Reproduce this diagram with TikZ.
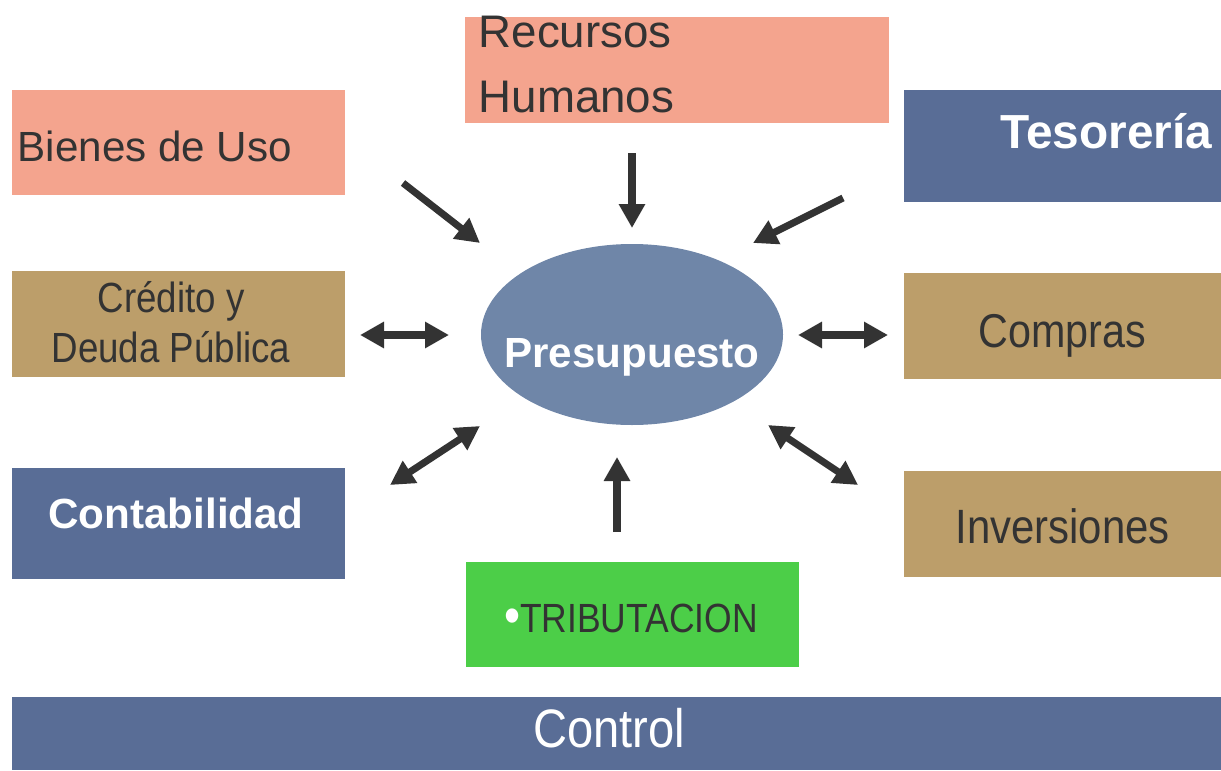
\documentclass[tikz,border=0pt]{standalone}
\usepackage{fontspec}
\setmainfont{Liberation Sans}
\newfontfamily\narrowfont[FakeStretch=0.87]{Liberation Sans}
\usetikzlibrary{arrows.meta,shapes.geometric}
\definecolor{rosado}{HTML}{F4A48E}
\definecolor{ocre}{HTML}{BC9E6A}
\definecolor{azul}{HTML}{596D96}
\definecolor{celeste}{HTML}{6F86A8}
\definecolor{verde}{HTML}{4CCE48}
\definecolor{gris}{HTML}{333333}
\tikzset{
  caja/.style={rectangle,inner sep=0pt,minimum width=3.33cm,minimum height=1.06cm},
  rotulo/.style={inner sep=0pt,anchor=base,text=gris},
  flecha/.style={draw=gris,line width=2pt,-{Triangle[length=0.24cm,width=0.25cm]}},
  dflecha/.style={flecha,{Triangle[length=0.24cm,width=0.25cm]}-{Triangle[length=0.24cm,width=0.25cm]}}
}
\begin{document}
\begin{tikzpicture}
  \useasboundingbox (0,0) rectangle (12.21,7.70);

  \node[caja,fill=rosado,minimum width=4.24cm] (rrhh) at (6.77,7.00) {};
  \node[caja,fill=rosado,minimum height=1.05cm] (bienes) at (1.785,6.275) {};
  \node[caja,fill=azul,minimum width=3.17cm,minimum height=1.12cm] (tesoreria) at (10.625,6.24) {};
  \node[caja,fill=ocre] (credito) at (1.785,4.46) {};
  \node[caja,fill=ocre,minimum width=3.17cm] (compras) at (10.625,4.44) {};
  \node[caja,fill=azul,minimum height=1.11cm] (contab) at (1.785,2.465) {};
  \node[caja,fill=ocre,minimum width=3.17cm] (inversiones) at (10.625,2.46) {};
  \node[caja,fill=verde,minimum height=1.05cm] (tribut) at (6.325,1.555) {};
  \node[caja,fill=azul,minimum width=12.09cm,minimum height=0.73cm] (control) at (6.165,0.365) {};
  \node[ellipse,fill=celeste,inner sep=0pt,minimum width=3.02cm,minimum height=1.81cm] (ppto) at (6.32,4.355) {};

  \node[rotulo,anchor=base west,align=left,font=\fontsize{13}{18.5}\selectfont] (rrhhT) at (4.78,6.57) {Recursos\\Humanos};
  \node[rotulo,anchor=base west,font=\fontsize{12}{14}\selectfont] (bienesT) at (0.17,6.08) {Bienes de Uso};
  \node[rotulo,anchor=base east,text=white,font=\bfseries\fontsize{13.6}{16}\selectfont] (tesoreriaT) at (12.13,6.22) {Tesorería};
  \node[rotulo,align=center,font=\narrowfont\fontsize{12}{14.2}\selectfont] (creditoT) at (1.71,4.08) {Crédito y\\Deuda Pública};
  \node[rotulo,font=\narrowfont\fontsize{13.5}{16}\selectfont] (comprasT) at (10.625,4.23) {Compras};
  \node[rotulo,text=white,font=\bfseries\fontsize{12}{14}\selectfont] (contabT) at (1.76,2.42) {Contabilidad};
  \node[rotulo,font=\narrowfont\fontsize{13.7}{16}\selectfont] (inversionesT) at (10.625,2.27) {Inversiones};
  \node[rotulo,font=\narrowfont\fontsize{11.6}{14}\selectfont] (tributT) at (6.31,1.38) {{\fontsize{15}{16}\selectfont\raisebox{-0.4pt}{\color{white}\textbullet}}TRIBUTACION};
  \node[rotulo,text=white,font=\narrowfont\fontsize{15.4}{18}\selectfont] (controlT) at (6.09,0.23) {Control};
  \node[rotulo,text=white,font=\bfseries\fontsize{12}{14}\selectfont] (pptoT) at (6.32,4.03) {Presupuesto};

  \path (4.03,5.87) coordinate (b1) (4.80,5.27) coordinate (b2)
        (6.32,6.17) coordinate (r1) (6.32,5.42) coordinate (r2)
        (8.43,5.72) coordinate (t1) (7.53,5.27) coordinate (t2)
        (3.60,4.35) coordinate (c1) (4.49,4.35) coordinate (c2)
        (7.98,4.35) coordinate (p1) (8.88,4.35) coordinate (p2)
        (3.90,2.85) coordinate (k1) (4.80,3.44) coordinate (k2)
        (7.68,3.45) coordinate (i1) (8.58,2.85) coordinate (i2)
        (6.17,2.38) coordinate (u1) (6.17,3.13) coordinate (u2);

  \draw[flecha] (b1)--(b2);
  \draw[flecha] (r1)--(r2);
  \draw[flecha] (t1)--(t2);
  \draw[flecha] (u1)--(u2);
  \draw[dflecha] (c1)--(c2);
  \draw[dflecha] (p1)--(p2);
  \draw[dflecha] (k1)--(k2);
  \draw[dflecha] (i1)--(i2);
\end{tikzpicture}
\end{document}
